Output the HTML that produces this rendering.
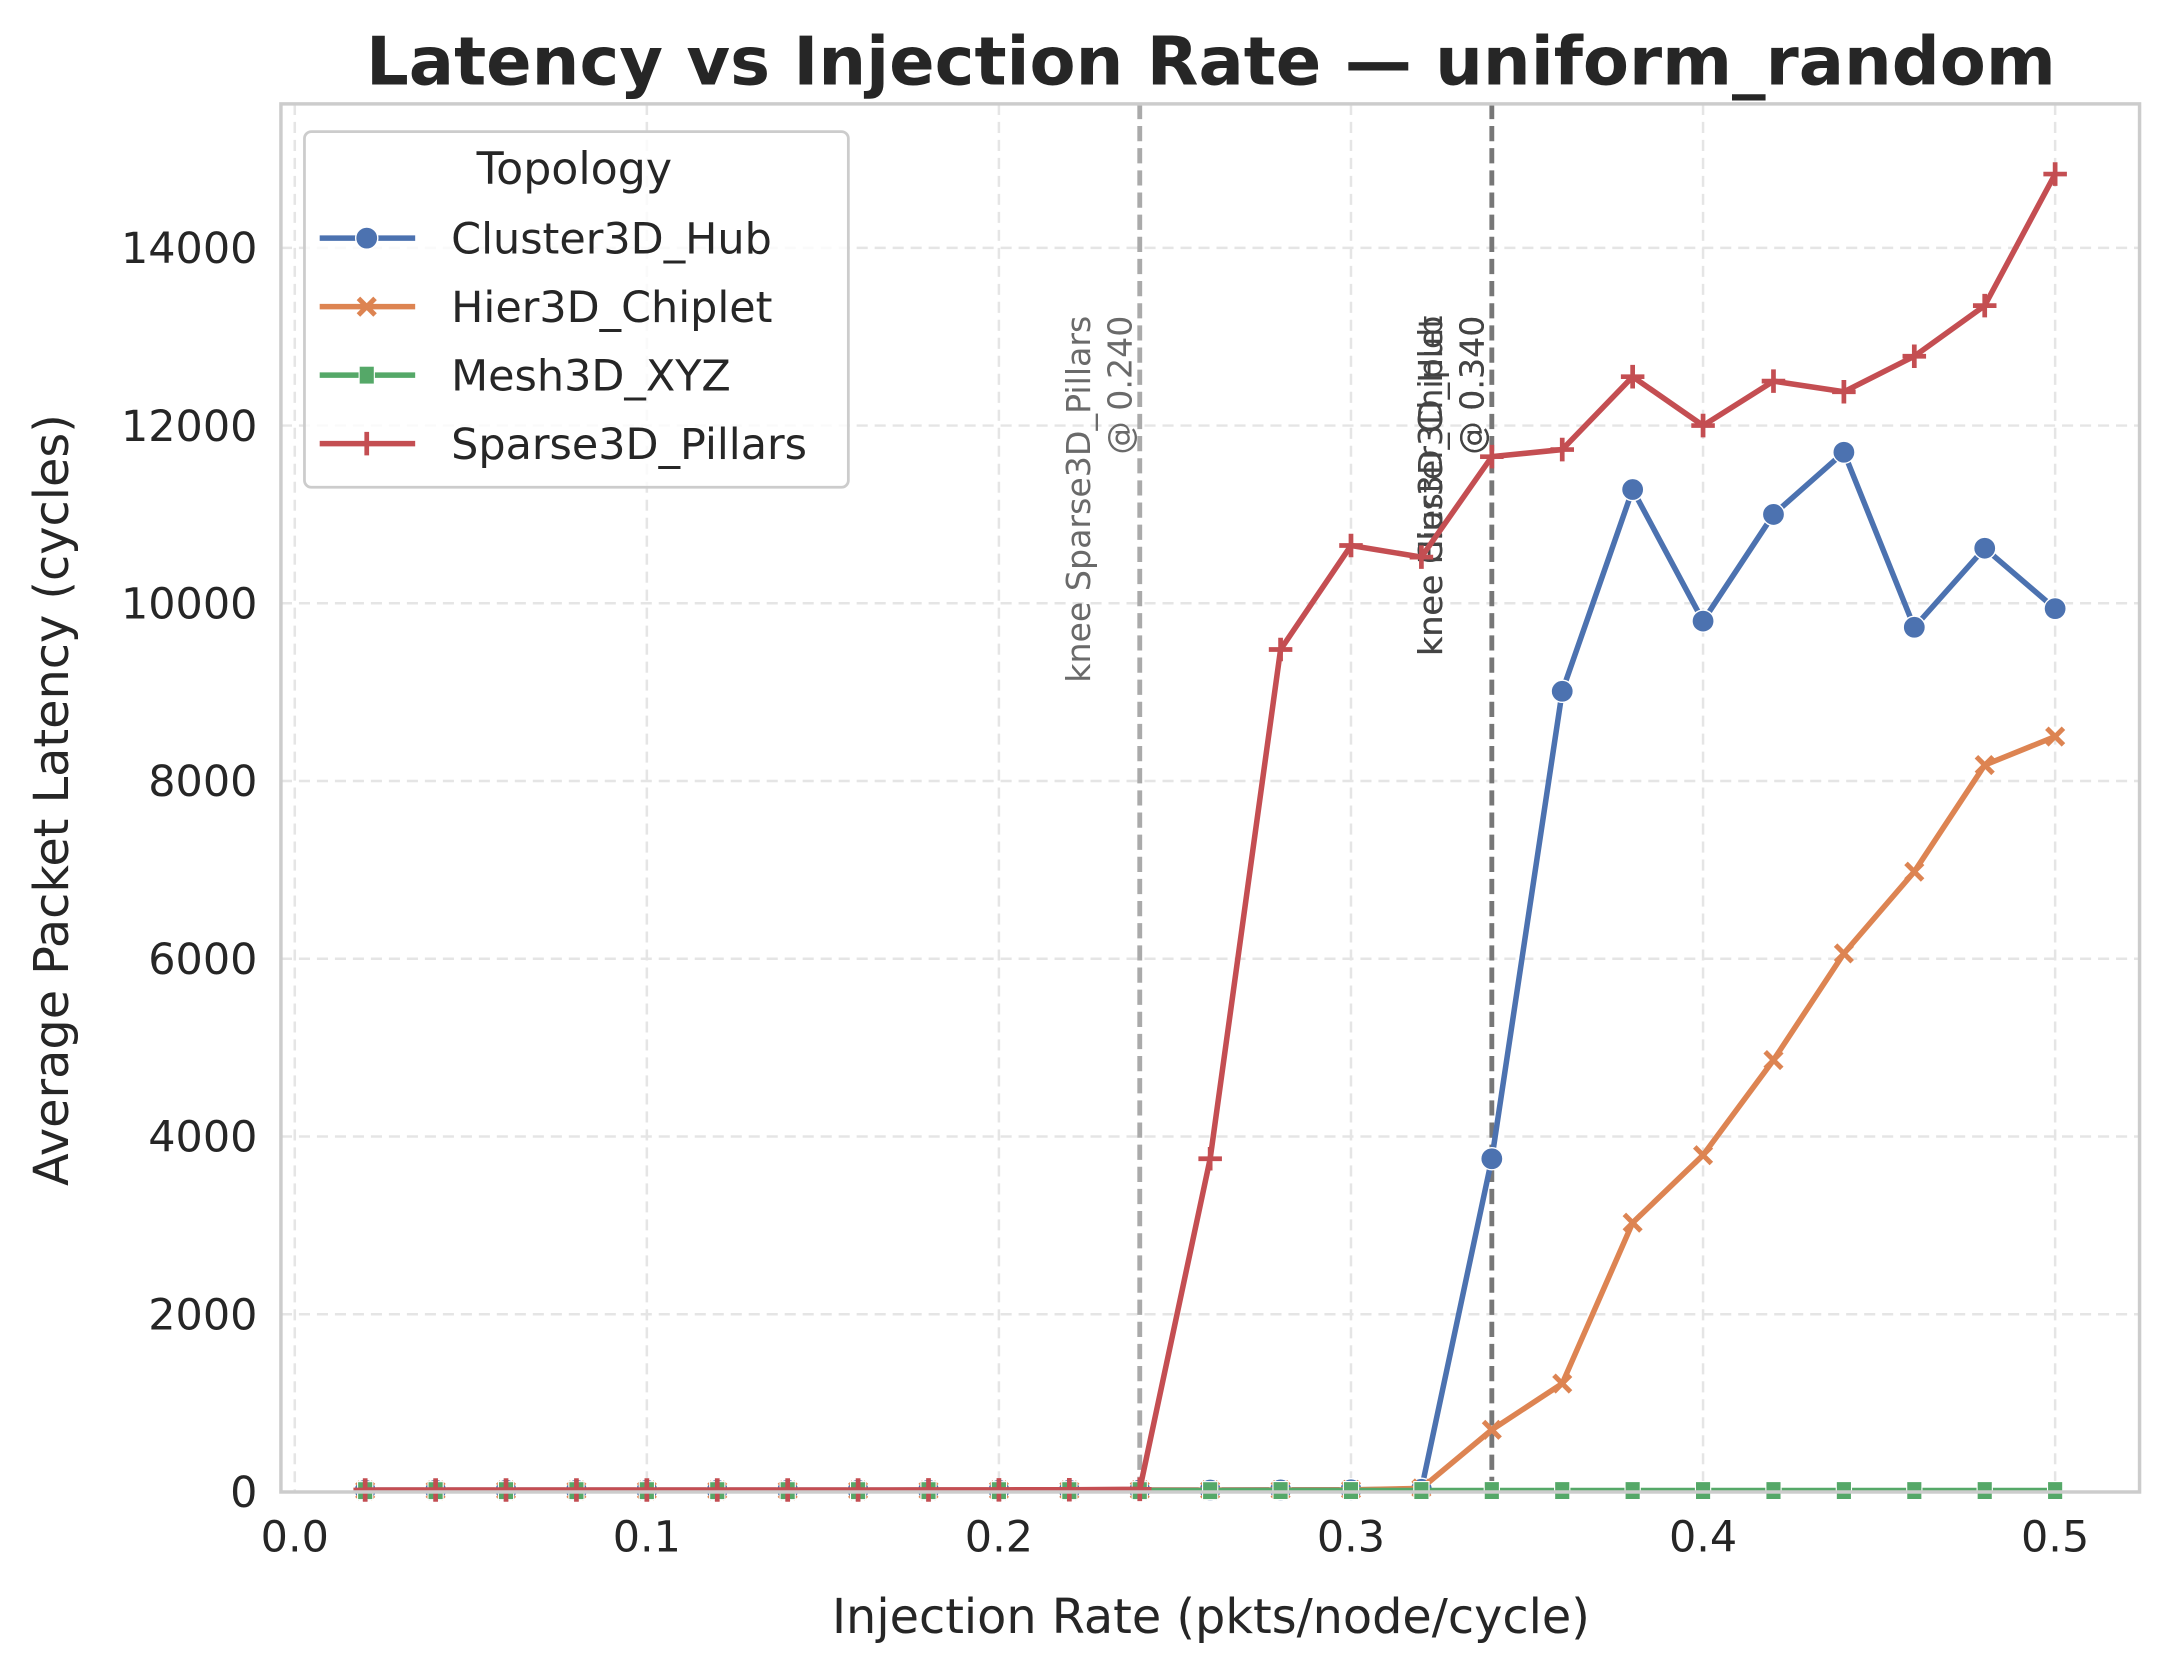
<!DOCTYPE html>
<html><head><meta charset="utf-8"><style>
html,body{margin:0;padding:0;background:#fff}
svg{display:block}
text{font-family:"DejaVu Sans","Liberation Sans",sans-serif;fill:#262626}
</style></head><body>
<svg id="chart" width="2170" height="1672" viewBox="0 0 1568 1208" xmlns="http://www.w3.org/2000/svg">
<rect x="0" y="0" width="1568" height="1208" fill="#fff"/>
<g id="grid"></g>
<g id="vlines"></g>
<g id="series"></g>
<rect x="203" y="75" width="1343" height="1003" fill="none" stroke="#ccc" stroke-width="2.5"/>
<g id="ticks"></g>
<text x="875" y="61" text-anchor="middle" font-size="48.5" font-weight="bold">Latency vs Injection Rate — uniform_random</text>
<text x="875" y="1180" text-anchor="middle" font-size="34.5">Injection Rate (pkts/node/cycle)</text>
<text transform="translate(49,578) rotate(-90)" text-anchor="middle" font-size="34.5">Average Packet Latency (cycles)</text>
<g id="legend"></g>
</svg>
<script>
const xs=[0.02,0.04,0.06,0.08,0.10,0.12,0.14,0.16,0.18,0.20,0.22,0.24,0.26,0.28,0.30,0.32,0.34,0.36,0.38,0.40,0.42,0.44,0.46,0.48,0.50];
const cluster=[20,20,20,20,20,20,20,20,20,20,20,22,22,24,25,30,3750,9010,11280,9800,11000,11700,9730,10620,9940];
const hier=[18,18,18,18,18,18,18,18,18,19,19,20,20,22,24,40,700,1220,3030,3790,4860,6060,6980,8180,8500];
const mesh=[15,15,15,15,15,15,15,15,15,15,15,15,15,16,16,16,16,16,16,16,16,16,16,16,16];
const sparse=[22,22,22,22,22,22,22,22,23,24,25,30,3750,9480,10650,10520,11650,11730,12550,12000,12500,12380,12780,13350,14830];
const xTicks=[0.0,0.1,0.2,0.3,0.4,0.5];
const xTickLabels=["0.0","0.1","0.2","0.3","0.4","0.5"];
const yTicks=[0,2000,4000,6000,8000,10000,12000,14000];
const knees=[0.24,0.34];
const names=["Cluster3D_Hub","Hier3D_Chiplet","Mesh3D_XYZ","Sparse3D_Pillars"];
const NS="http://www.w3.org/2000/svg";
const X=v=>213+v*2544;
const Y=v=>1078-v*(899/14000);
function el(t,a,p){const e=document.createElementNS(NS,t);for(const k in a)e.setAttribute(k,a[k]);p.appendChild(e);return e;}
const grid=document.getElementById('grid'),ticks=document.getElementById('ticks');
xTicks.forEach((t,i)=>{
 const g=el('line',{x1:X(t),x2:X(t),y1:75,y2:1078,stroke:'#e5e5e5','stroke-width':1.8,'stroke-dasharray':'8,5'},grid);
 
 
 const l=el('text',{x:X(t),y:1121,'text-anchor':'middle','font-size':31},ticks);l.textContent=xTickLabels[i];
 
 
});
yTicks.forEach(t=>{
 const g=el('line',{x1:203,x2:1546,y1:Y(t),y2:Y(t),stroke:'#e5e5e5','stroke-width':1.8,'stroke-dasharray':'8,5'},grid);
 
 
 const l=el('text',{x:186,y:Y(t)+11,'text-anchor':'end','font-size':31},ticks);l.textContent=String(t);
 
 
});
const vl=document.getElementById('vlines');
const kc=['#aaaaaa','#777777'];
knees.forEach((k,i)=>{
 const l=el('line',{x1:X(k),x2:X(k),y1:75,y2:1078,stroke:kc[i],'stroke-width':3.5,'stroke-dasharray':'11,5'},vl);
 
 
});
function ann(x,lines,col){
 lines.forEach((s,j)=>{
  const t=el('text',{transform:`translate(${x-30+j*30},228) rotate(-90)`,'text-anchor':'end','font-size':24,style:'fill:'+col},vl);
  t.textContent=s;
  
  
 });
}
ann(X(0.24)-6,["knee Sparse3D_Pillars","@ 0.240"],'#6a6a6a');
ann(X(0.34)-6,["knee Cluster3D_Hub","@ 0.340"],'#444');
ann(X(0.34)-6,["knee Hier3D_Chiplet","@ 0.340"],'#444');
const ser=document.getElementById('series');
const cols=['#4c72b0','#dd8452','#55a868','#c44e52'];
const datas=[cluster,hier,mesh,sparse];
const order=[0,1,2,3];
function marker(k,x,y,g){
 let m;
 if(k===0)m=el('circle',{cx:x,cy:y,r:8,fill:cols[0],stroke:'#fff','stroke-width':1},g);
 else if(k===1){m=el('path',{d:`M${x-6} ${y-6}L${x+6} ${y+6}M${x-6} ${y+6}L${x+6} ${y-6}`,stroke:cols[1],'stroke-width':3.6},g);}
 else if(k===2)m=el('rect',{x:x-5.5,y:y-6.5,width:11,height:13,fill:cols[2],stroke:'#fff','stroke-width':0.8},g);
 else m=el('path',{d:`M${x-8.5} ${y}L${x+8.5} ${y}M${x} ${y-8.5}L${x} ${y+8.5}`,stroke:cols[3],'stroke-width':3.4},g);
 
 
}
order.forEach(k=>{
 const d=datas[k];
 const g=el('g',{},ser);
 
 
 const p=el('path',{d:xs.map((x,i)=>(i?'L':'M')+X(x)+' '+Y(d[i])).join(''),fill:'none',stroke:cols[k],'stroke-width':4,'stroke-linejoin':'round'},g);
 
 
 xs.forEach((x,i)=>marker(k,X(x),Y(d[i]),g));
});
const lg=document.getElementById('legend');
const box=el('rect',{x:220,y:95,width:393,height:257,rx:5,fill:'#fff','fill-opacity':0.8,stroke:'#ccc','stroke-width':2},lg);


const tt=el('text',{x:415,y:133,'text-anchor':'middle','font-size':32},lg);tt.textContent='Topology';


names.forEach((n,i)=>{
 const y=172+i*49.5;
 const g=el('g',{},lg);
 
 
 el('line',{x1:231,x2:300,y1:y,y2:y,stroke:cols[i],'stroke-width':4},g);
 marker(i,265,y,g);
 const t=el('text',{x:326,y:y+11,'font-size':31},g);t.textContent=n;
});
</script>
</body></html>
